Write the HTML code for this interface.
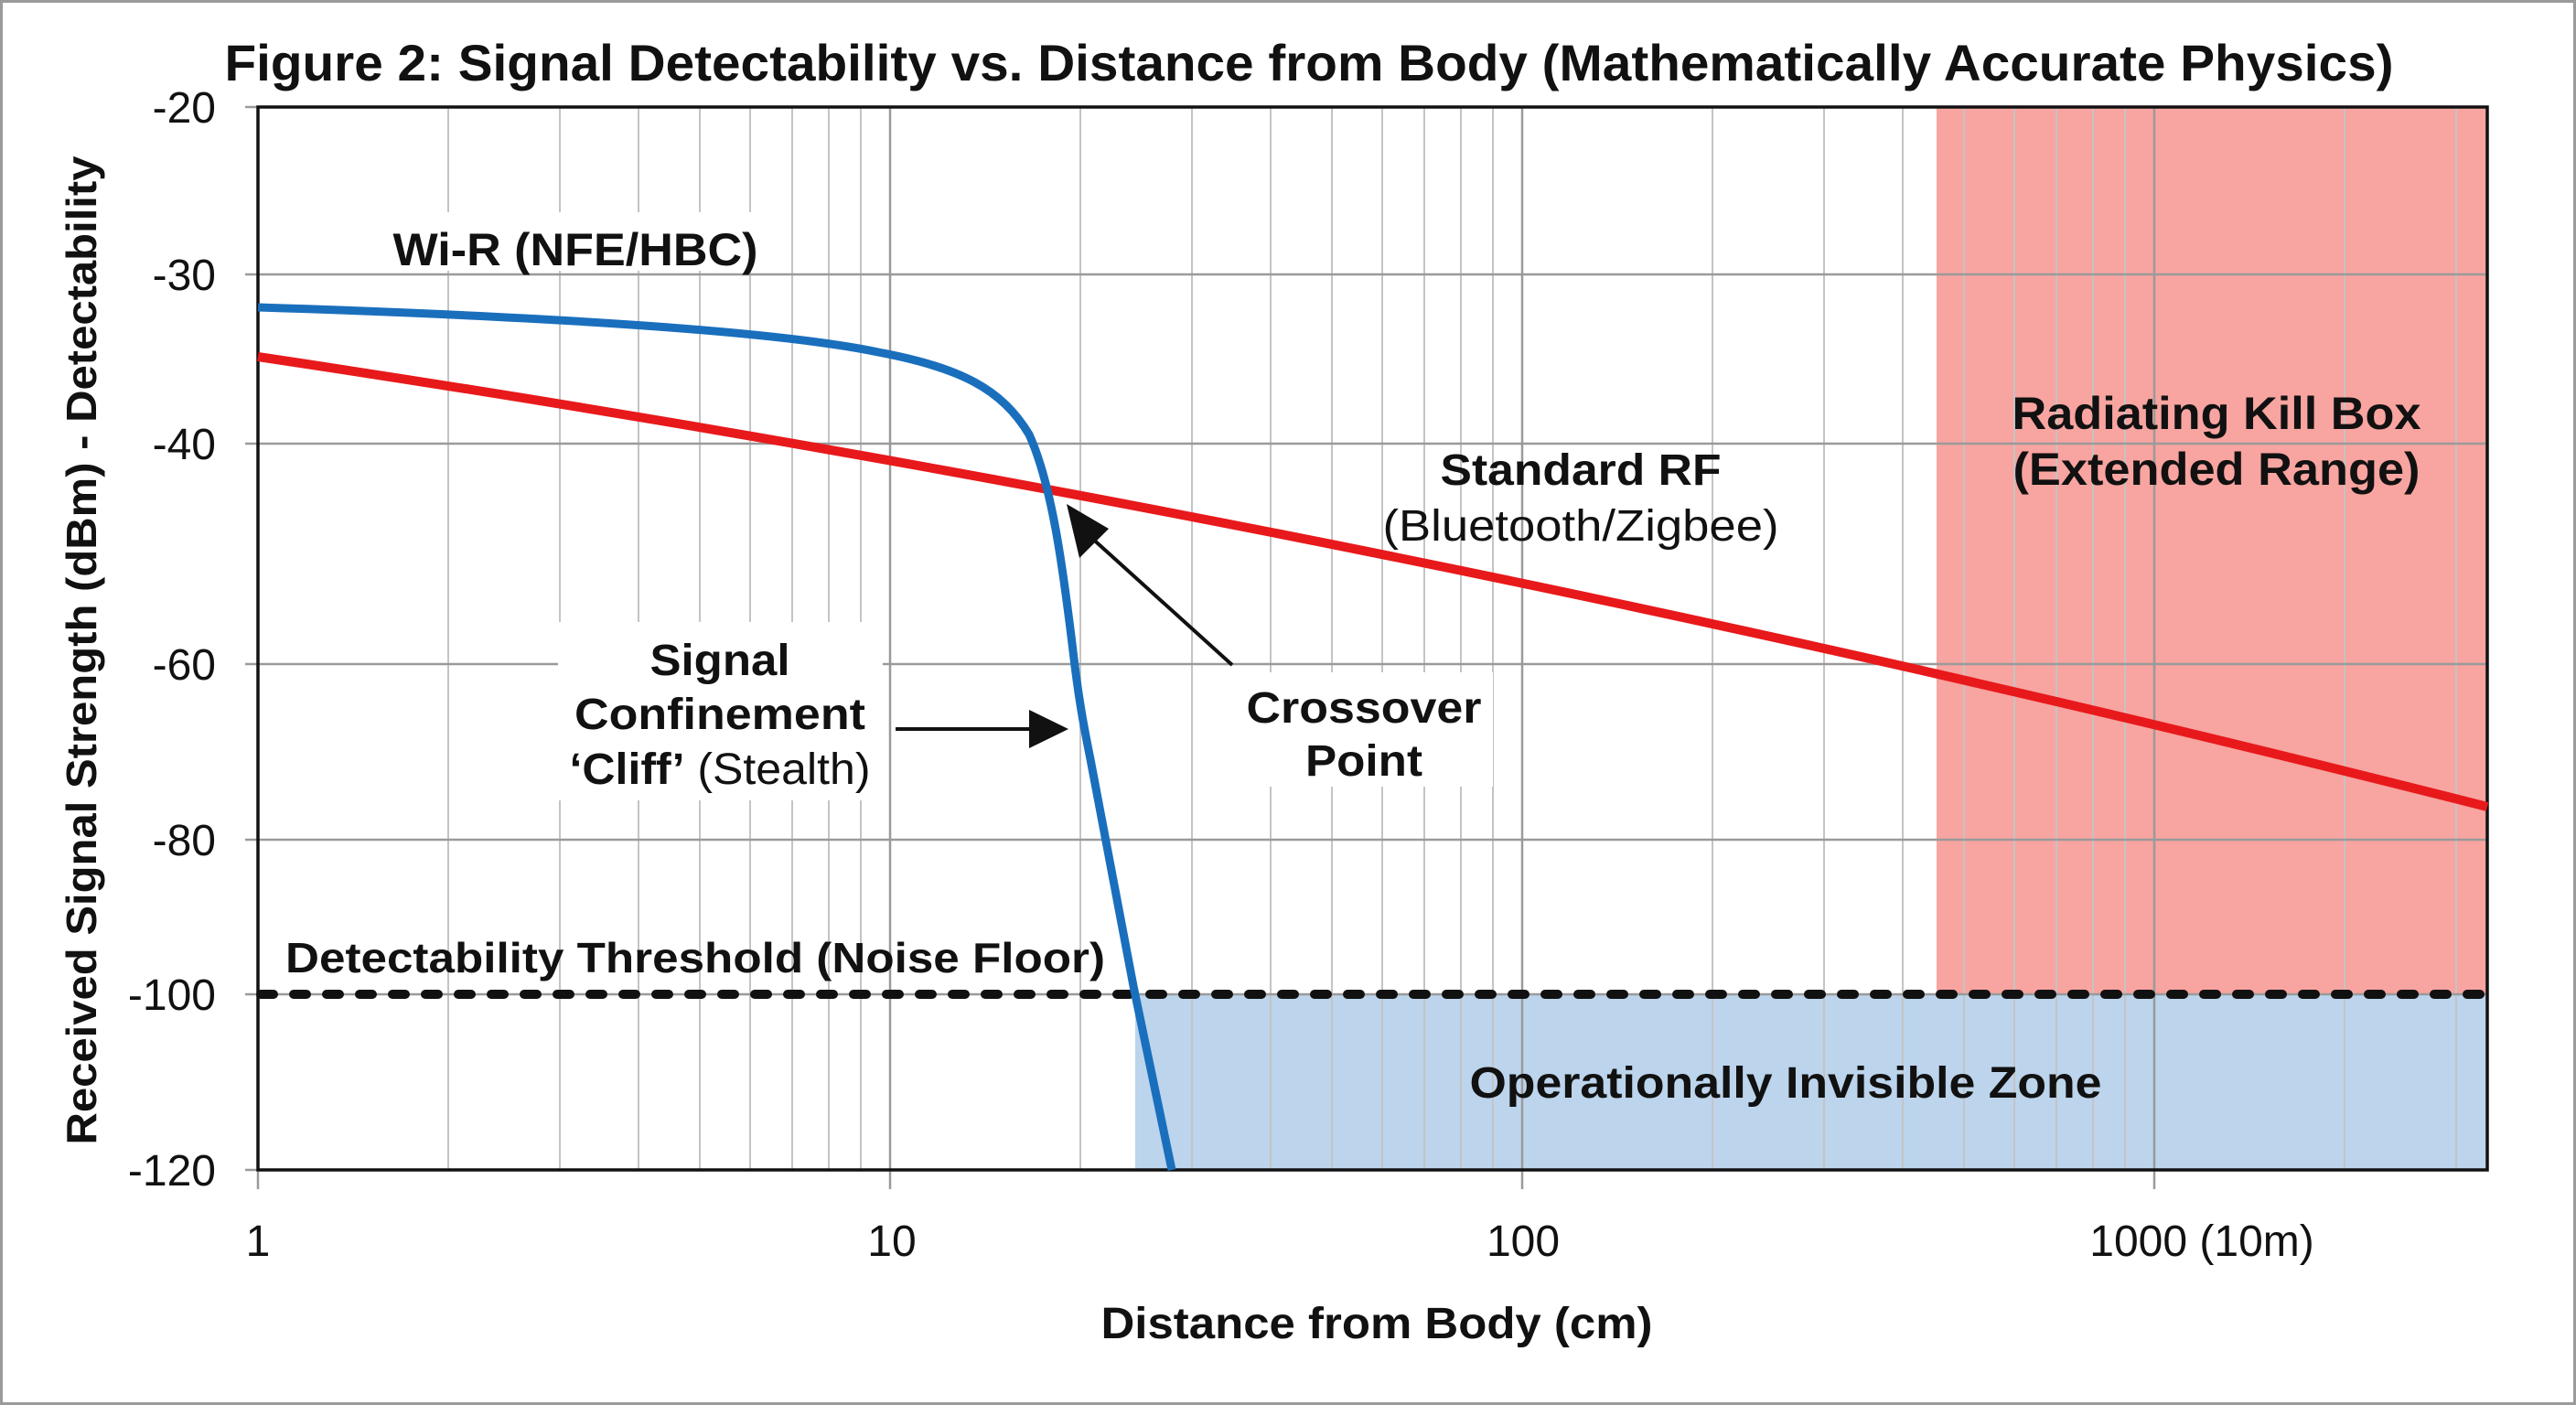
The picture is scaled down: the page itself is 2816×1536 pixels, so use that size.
<!DOCTYPE html>
<html><head><meta charset="utf-8"><style>
html,body{margin:0;padding:0;background:#fff}
svg{display:block}
text{font-family:"Liberation Sans",Arial,sans-serif;fill:#111}
.b{font-weight:bold}
</style></head><body>
<svg width="2816" height="1536" viewBox="0 0 2816 1536" xmlns="http://www.w3.org/2000/svg">
<rect x="1.5" y="1.5" width="2813" height="1533" fill="#fff" stroke="#9a9a9a" stroke-width="3"/>
<text class="b" x="1431" y="88" font-size="56" text-anchor="middle" textLength="2371" lengthAdjust="spacingAndGlyphs">Figure 2: Signal Detectability vs. Distance from Body (Mathematically Accurate Physics)</text>
<rect x="2117" y="117" width="602" height="970" fill="#f8a4a0"/>
<rect x="1241" y="1087" width="1478" height="192" fill="#bcd4ec"/>
<g stroke="#c4c4c4" stroke-width="2">
<line x1="490" y1="117" x2="490" y2="1279"/><line x1="612" y1="117" x2="612" y2="1279"/><line x1="698" y1="117" x2="698" y2="1279"/><line x1="765" y1="117" x2="765" y2="1279"/><line x1="820" y1="117" x2="820" y2="1279"/><line x1="866" y1="117" x2="866" y2="1279"/><line x1="906" y1="117" x2="906" y2="1279"/><line x1="941" y1="117" x2="941" y2="1279"/>
<line x1="1181" y1="117" x2="1181" y2="1279"/><line x1="1303" y1="117" x2="1303" y2="1279"/><line x1="1389" y1="117" x2="1389" y2="1279"/><line x1="1456" y1="117" x2="1456" y2="1279"/><line x1="1511" y1="117" x2="1511" y2="1279"/><line x1="1557" y1="117" x2="1557" y2="1279"/><line x1="1597" y1="117" x2="1597" y2="1279"/><line x1="1632" y1="117" x2="1632" y2="1279"/>
<line x1="1872" y1="117" x2="1872" y2="1279"/><line x1="1994" y1="117" x2="1994" y2="1279"/><line x1="2080" y1="117" x2="2080" y2="1279"/><line x1="2147" y1="117" x2="2147" y2="1279"/><line x1="2202" y1="117" x2="2202" y2="1279"/><line x1="2248" y1="117" x2="2248" y2="1279"/><line x1="2288" y1="117" x2="2288" y2="1279"/><line x1="2323" y1="117" x2="2323" y2="1279"/>
<line x1="2563" y1="117" x2="2563" y2="1279"/><line x1="2685" y1="117" x2="2685" y2="1279"/>
</g>
<g stroke="#9a9a9a" stroke-width="2.5">
<line x1="973" y1="117" x2="973" y2="1300"/><line x1="1664" y1="117" x2="1664" y2="1300"/><line x1="2355" y1="117" x2="2355" y2="1300"/><line x1="282" y1="1279" x2="282" y2="1300"/>
<line x1="268" y1="300" x2="2719" y2="300"/><line x1="268" y1="485" x2="2719" y2="485"/><line x1="268" y1="726" x2="2719" y2="726"/><line x1="268" y1="918" x2="2719" y2="918"/><line x1="268" y1="1087" x2="2719" y2="1087"/><line x1="268" y1="117" x2="282" y2="117"/><line x1="268" y1="1279" x2="282" y2="1279"/>
</g>
<rect x="282" y="117" width="2437" height="1162" fill="none" stroke="#111" stroke-width="3.5"/>
<line x1="285" y1="1087" x2="2719" y2="1087" stroke="#111" stroke-width="10" stroke-dasharray="14 22" stroke-linecap="round"/>
<path fill="none" stroke="#e8191b" stroke-width="10" d="M282,390 Q1500,572 2719,882"/>
<path fill="none" stroke="#1a6fbd" stroke-width="9" stroke-linejoin="round" d="M282,336 C600,346 850,362 960,385 C1050,402 1095,425 1125,475 C1150,530 1162,620 1174,720 C1180,770 1186,800 1192,830 L1239,1078 L1281,1279"/>
<line x1="979" y1="797" x2="1130" y2="797" stroke="#111" stroke-width="4"/>
<polygon points="1168,797 1125,776 1125,818" fill="#111"/>
<line x1="1347" y1="727" x2="1190" y2="585" stroke="#111" stroke-width="4"/>
<polygon points="1166,551 1180,610 1212,578" fill="#111"/>
<rect x="420" y="232" width="420" height="64" fill="#fff"/>
<text class="b" x="629" y="290" font-size="50" text-anchor="middle" textLength="399" lengthAdjust="spacingAndGlyphs">Wi-R (NFE/HBC)</text>
<text class="b" x="1728" y="530" font-size="48" text-anchor="middle" textLength="307" lengthAdjust="spacingAndGlyphs">Standard RF</text>
<text x="1728" y="591" font-size="48" text-anchor="middle" textLength="433" lengthAdjust="spacingAndGlyphs">(Bluetooth/Zigbee)</text>
<text class="b" x="2423" y="469" font-size="50" text-anchor="middle" textLength="447" lengthAdjust="spacingAndGlyphs">Radiating Kill Box</text>
<text class="b" x="2423" y="530" font-size="50" text-anchor="middle" textLength="445" lengthAdjust="spacingAndGlyphs">(Extended Range)</text>
<rect x="610" y="680" width="355" height="195" fill="#fff"/>
<text class="b" x="787" y="738" font-size="48" text-anchor="middle" textLength="153" lengthAdjust="spacingAndGlyphs">Signal</text>
<text class="b" x="787" y="797" font-size="48" text-anchor="middle" textLength="318" lengthAdjust="spacingAndGlyphs">Confinement</text>
<text x="787" y="857" font-size="48" text-anchor="middle" textLength="329" lengthAdjust="spacingAndGlyphs"><tspan font-weight="bold">‘Cliff’</tspan> (Stealth)</text>
<rect x="1350" y="735" width="282" height="125" fill="#fff"/>
<text class="b" x="1491" y="790" font-size="48" text-anchor="middle" textLength="257" lengthAdjust="spacingAndGlyphs">Crossover</text>
<text class="b" x="1491" y="848" font-size="48" text-anchor="middle" textLength="128" lengthAdjust="spacingAndGlyphs">Point</text>
<text class="b" x="312" y="1063" font-size="46" textLength="896" lengthAdjust="spacingAndGlyphs">Detectability Threshold (Noise Floor)</text>
<text class="b" x="1952" y="1200" font-size="48" text-anchor="middle" textLength="691" lengthAdjust="spacingAndGlyphs">Operationally Invisible Zone</text>
<g font-size="48" text-anchor="end">
<text x="236" y="134">-20</text><text x="236" y="317">-30</text><text x="236" y="502">-40</text><text x="236" y="743">-60</text><text x="236" y="935">-80</text><text x="236" y="1104">-100</text><text x="236" y="1296">-120</text>
</g>
<g font-size="48" text-anchor="middle">
<text x="282" y="1373">1</text><text x="975" y="1373">10</text><text x="1665" y="1373">100</text><text x="2407" y="1373">1000 (10m)</text>
</g>
<text class="b" x="1505" y="1463" font-size="48" text-anchor="middle" textLength="603" lengthAdjust="spacingAndGlyphs">Distance from Body (cm)</text>
<text class="b" transform="translate(105,711) rotate(-90)" x="0" y="0" font-size="46" text-anchor="middle" textLength="1081" lengthAdjust="spacingAndGlyphs">Received Signal Strength (dBm) - Detectability</text>
</svg>
</body></html>
